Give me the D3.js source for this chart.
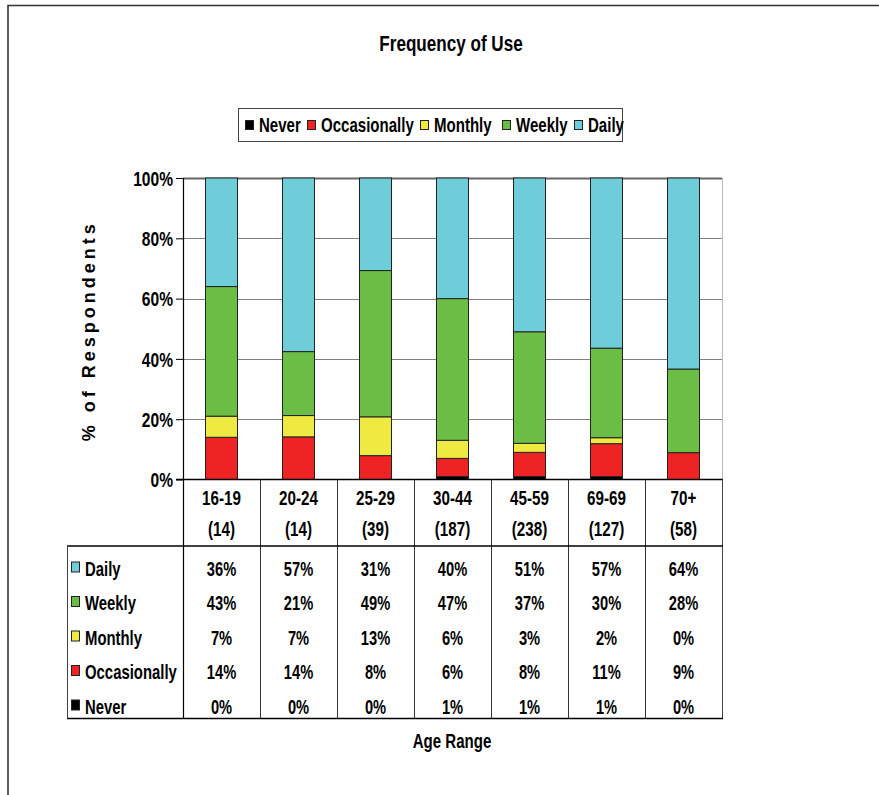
<!DOCTYPE html>
<html>
<head>
<meta charset="utf-8">
<script src="https://cdn.jsdelivr.net/npm/d3@7"></script>
<style>
  html, body { margin: 0; padding: 0; background: #fff; }
  svg { display: block; }
  text { font-family: "Liberation Sans", Arial, sans-serif; font-weight: bold; fill: #000; }
</style>
</head>
<body>
<svg id="chart" width="879" height="795"></svg>
<script>
// Age groups with sample sizes
const ageRanges = ["16-19", "20-24", "25-29", "30-44", "45-59", "69-69", "70+"];
const sampleSizes = ["(14)", "(14)", "(39)", "(187)", "(238)", "(127)", "(58)"];

// Response categories, stacked bottom to top
const frequencies = ["Never", "Occasionally", "Monthly", "Weekly", "Daily"];
const colors = ["#000000", "#ee2323", "#eeea42", "#6cbd45", "#6ecdd8"];

// Percent of respondents per age range
const never        = [0, 0, 0, 1, 1, 1, 0];
const occasionally = [14, 14, 8, 6, 8, 11, 9];
const monthly      = [7, 7, 13, 6, 3, 2, 0];
const weekly       = [43, 21, 49, 47, 37, 30, 28];
const daily        = [36, 57, 31, 40, 51, 57, 64];

const yTicks = [0, 0.2, 0.4, 0.6, 0.8, 1];

const seriesValues = { Never: never, Occasionally: occasionally, Monthly: monthly, Weekly: weekly, Daily: daily };
const rows = ageRanges.map((a, i) => {
  const r = { age: a };
  frequencies.forEach(f => r[f] = seriesValues[f][i]);
  return r;
});

const NARROW = 0.76; // horizontal squeeze giving a narrow bold face

const svg = d3.select("#chart");

// Narrow text: placed with a group so the glyphs can be squeezed horizontally
function narrowText(parent, x, y, str, size, anchor) {
  const g = parent.append("g").attr("transform", `translate(${x},${y}) scale(${NARROW},1)`);
  g.append("text").attr("text-anchor", anchor || "start").style("font-size", size + "px").text(str);
  return g;
}

// Outer frame
svg.append("path")
  .attr("d", "M8,795 V5.5 H879")
  .attr("fill", "none").attr("stroke", "#333").attr("stroke-width", 1.6);

const plot = { left: 183, right: 722, top: 178, bottom: 479.5 };
const tableTop = 546, tableBottom = 718.5, tableLeft = 67;

const x = d3.scaleBand().domain(ageRanges).range([plot.left, plot.right]).paddingInner(0.59).paddingOuter(0.295);
const xCol = d3.scaleBand().domain(ageRanges).range([plot.left, plot.right]);
const y = d3.scaleLinear().domain([0, 1]).range([plot.bottom, plot.top]);
const color = d3.scaleOrdinal().domain(frequencies).range(colors);

// Title
narrowText(svg, 451, 50.5, "Frequency of Use", 22.5, "middle");

// Legend
const legendG = svg.append("g");
legendG.append("rect").attr("x", 238.5).attr("y", 108.5).attr("width", 384).attr("height", 33)
  .attr("fill", "#fff").attr("stroke", "#444").attr("stroke-width", 1);
const legendX = [245, 307, 420, 502, 574];
frequencies.forEach((f, i) => {
  legendG.append("rect").attr("x", legendX[i] + 0.5).attr("y", 120.5).attr("width", 8).attr("height", 9)
    .attr("fill", color(f)).attr("stroke", "#222").attr("stroke-width", 1);
  narrowText(legendG, legendX[i] + 14, 132, f, 19.8);
});

// Gridlines
svg.append("g").selectAll("line").data(yTicks.filter(t => t > 0)).join("line")
  .attr("x1", plot.left).attr("x2", plot.right)
  .attr("y1", d => Math.round(y(d)) + 0.5).attr("y2", d => Math.round(y(d)) + 0.5)
  .attr("stroke", d => d === 1 ? "#666" : "#808080").attr("stroke-width", d => d === 1 ? 1.8 : 1);

// Y axis
const yAxis = d3.axisLeft(y).tickValues(yTicks).tickFormat(d3.format(".0%")).tickSize(7).tickPadding(4);
const yAxisG = svg.append("g").attr("transform", `translate(${plot.left},0)`).call(yAxis);
yAxisG.select(".domain").remove();
yAxisG.selectAll(".tick line").attr("stroke", "#000");
yAxisG.selectAll(".tick text")
  .attr("x", 0).attr("dy", "0.36em")
  .attr("transform", `translate(-10,0) scale(${NARROW},1)`)
  .style("font-size", "20.5px").style("font-family", "'Liberation Sans', Arial, sans-serif").attr("font-weight", "bold");

svg.append("text")
  .attr("transform", `translate(95,${(plot.top + plot.bottom) / 2 + 2}) rotate(-90)`)
  .attr("text-anchor", "middle")
  .style("font-size", "18px").style("letter-spacing", "4px")
  .text("% of Respondents");

// Stacked bars (normalised to 100%)
const stack = d3.stack().keys(frequencies).offset(d3.stackOffsetExpand);
const series = stack(rows);
svg.append("g").selectAll("g").data(series).join("g")
  .attr("fill", d => color(d.key))
  .selectAll("rect").data(d => d).join("rect")
  .attr("x", d => Math.round(x(d.data.age)) - 0.5)
  .attr("y", d => y(d[1]))
  .attr("width", Math.round(x.bandwidth()))
  .attr("height", d => y(d[0]) - y(d[1]))
  .attr("stroke", "#222").attr("stroke-width", d => (d[1] - d[0]) > 0 ? 1 : 0);

// Frame lines of plot + data table
const lines = svg.append("g").attr("stroke", "#000").attr("fill", "none");
lines.append("line").attr("x1", plot.right + 0.5).attr("x2", plot.right + 0.5).attr("y1", plot.top).attr("y2", plot.bottom)
  .attr("stroke", "#bbb");
lines.append("line").attr("x1", plot.left - 7).attr("x2", plot.right + 1).attr("y1", plot.bottom).attr("y2", plot.bottom).attr("stroke-width", 1.3);
lines.append("line").attr("x1", plot.left + 0.5).attr("x2", plot.left + 0.5).attr("y1", plot.top).attr("y2", tableBottom).attr("stroke-width", 1.2);
const dividers = ageRanges.map(a => xCol(a) + xCol.bandwidth()).slice(0, -1);
lines.selectAll(".div").data(dividers).join("line")
  .attr("x1", d => Math.round(d) + 0.5).attr("x2", d => Math.round(d) + 0.5)
  .attr("y1", plot.bottom).attr("y2", tableBottom).attr("stroke", "#333");
lines.append("line").attr("x1", plot.right + 0.5).attr("x2", plot.right + 0.5).attr("y1", plot.bottom).attr("y2", tableBottom).attr("stroke", "#444");
lines.append("line").attr("x1", tableLeft).attr("x2", plot.right + 1).attr("y1", tableTop).attr("y2", tableTop).attr("stroke-width", 1.3);
lines.append("line").attr("x1", tableLeft).attr("x2", plot.right + 1).attr("y1", tableBottom).attr("y2", tableBottom).attr("stroke-width", 1.3);
lines.append("line").attr("x1", tableLeft + 0.5).attr("x2", tableLeft + 0.5).attr("y1", tableTop).attr("y2", tableBottom).attr("stroke", "#444");

// Category header labels
const header = svg.append("g");
ageRanges.forEach((a, i) => {
  const cx = xCol(a) + xCol.bandwidth() / 2;
  narrowText(header, cx, 504.5, a, 20, "middle");
  narrowText(header, cx, 535.5, sampleSizes[i], 20, "middle");
});

// Data table rows, top row = Daily
const tableOrder = frequencies.slice().reverse();
const rowY = d3.scalePoint().domain(tableOrder).range([575.5, 713.5]);
const table = svg.append("g");
tableOrder.forEach(f => {
  table.append("rect").attr("x", 71.5).attr("y", rowY(f) - 13.5).attr("width", 8).attr("height", 10)
    .attr("fill", color(f)).attr("stroke", "#222").attr("stroke-width", 1);
  narrowText(table, 85, rowY(f), f, 19.6);
  seriesValues[f].forEach((v, i) => {
    narrowText(table, xCol(ageRanges[i]) + xCol.bandwidth() / 2, rowY(f), v + "%", 19.3, "middle");
  });
});

// X axis title
narrowText(svg, 452, 748, "Age Range", 19.8, "middle");
</script>
</body>
</html>
